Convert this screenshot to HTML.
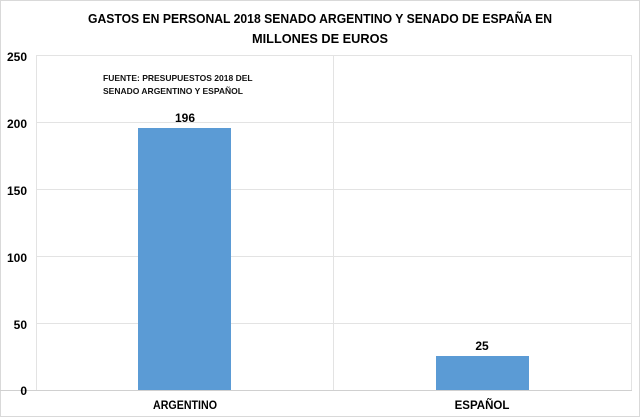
<!DOCTYPE html>
<html><head><meta charset="utf-8"><style>
body{margin:0;background:#fff;}
svg{display:block;font-family:"Liberation Sans",Arial,sans-serif;}
</style></head><body>
<svg width="640" height="418" viewBox="0 0 640 418">
<rect x="0" y="0" width="640" height="418" fill="#fff"/>
<rect x="0.5" y="0.5" width="639" height="416" fill="none" stroke="#d9d9d9"/>
<text x="320" y="23" text-anchor="middle" font-size="13" font-weight="bold" fill="#000" textLength="464" lengthAdjust="spacingAndGlyphs">GASTOS  EN PERSONAL 2018 SENADO ARGENTINO Y SENADO DE ESPAÑA EN</text>
<text x="320" y="43" text-anchor="middle" font-size="13" font-weight="bold" fill="#000" textLength="136" lengthAdjust="spacingAndGlyphs">MILLONES DE EUROS</text>
<g stroke="#e3e3e3" stroke-width="1">
<line x1="36" y1="55.5" x2="632" y2="55.5"/>
<line x1="36" y1="122.5" x2="632" y2="122.5"/>
<line x1="36" y1="189.5" x2="632" y2="189.5"/>
<line x1="36" y1="256.5" x2="632" y2="256.5"/>
<line x1="36" y1="323.5" x2="632" y2="323.5"/>
<line x1="36.5" y1="55" x2="36.5" y2="390"/>
<line x1="333.5" y1="55" x2="333.5" y2="390"/>
<line x1="631.5" y1="55" x2="631.5" y2="390"/>
</g>
<line x1="0" y1="390.5" x2="632" y2="390.5" stroke="#d0d0d0"/>
<g font-size="12" font-weight="bold" text-anchor="end" fill="#000">
<text x="27" y="61">250</text><text x="27" y="128">200</text><text x="27" y="195">150</text>
<text x="27" y="262">100</text><text x="27" y="329">50</text><text x="27" y="395">0</text>
</g>
<text x="103" y="81" font-size="8.5" font-weight="bold" fill="#111">FUENTE: PRESUPUESTOS 2018  DEL</text>
<text x="103" y="94" font-size="8.5" font-weight="bold" fill="#111">SENADO ARGENTINO Y ESPAÑOL</text>
<rect x="138" y="128" width="93" height="262" fill="#5b9bd5"/>
<rect x="436" y="356" width="93" height="34" fill="#5b9bd5"/>
<text x="185" y="122" text-anchor="middle" font-size="12" font-weight="bold">196</text>
<text x="482" y="350" text-anchor="middle" font-size="12" font-weight="bold">25</text>
<text x="185" y="409" text-anchor="middle" font-size="11.5" font-weight="bold" textLength="64" lengthAdjust="spacingAndGlyphs">ARGENTINO</text>
<text x="482" y="409" text-anchor="middle" font-size="11.5" font-weight="bold">ESPAÑOL</text>
</svg>
</body></html>
